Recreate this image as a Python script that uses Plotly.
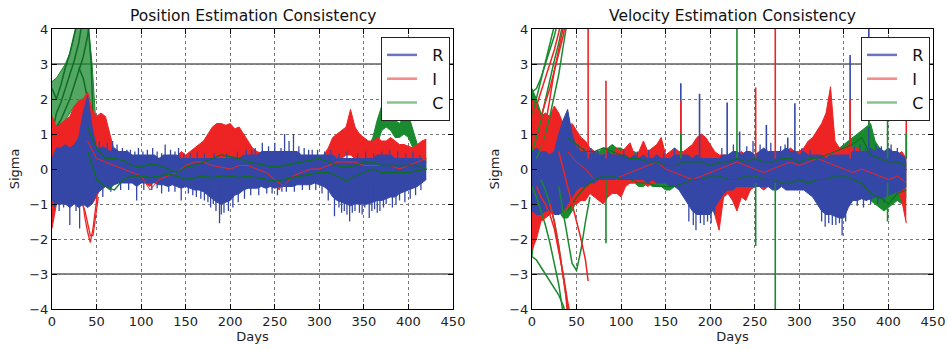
import plotly.graph_objects as go

# ---------------- data ----------------
DAYS = list(range(0, 421, 5))          # 5-day sampling grid, 85 points
LINE_DAYS = list(range(40, 421, 10))   # 10-day grid for thin lines, 39 points

# Position panel -------------------------------------------------
POS_R_HI = [0.3,0.6,0.6,0.7,0.6,0.7,0.9,1.6,2.1,1.2,
            0.6,0.6,0.6,0.5,0.6,0.5,0.5,0.5,0.4,0.4,
            0.4,0.4,0.4,0.4,0.3,0.4,0.4,0.4,0.4,0.3,
            0.3,0.3,0.3,0.3,0.3,0.3,0.3,0.3,0.3,0.3,
            0.3,0.3,0.3,0.4,0.4,0.4,0.4,0.5,0.5,0.5,
            0.5,0.5,0.5,0.5,0.5,0.5,0.4,0.4,0.4,0.4,
            0.4,0.4,0.4,0.4,0.3,0.3,0.3,0.3,0.3,0.3,
            0.3,0.3,0.3,0.4,0.4,0.4,0.4,0.3,0.3,0.3,
            0.3,0.3,0.3,0.3,0.2]
POS_R_LO = [-0.9,-1.0,-1.0,-1.0,-1.1,-1.0,-1.1,-1.0,-1.1,-1.0,
            -0.7,-0.6,-0.5,-0.5,-0.45,-0.4,-0.4,-0.4,-0.4,-0.5,
            -0.4,-0.4,-0.4,-0.4,-0.45,-0.45,-0.5,-0.45,-0.5,-0.55,
            -0.5,-0.55,-0.6,-0.6,-0.65,-0.75,-0.85,-0.95,-1.0,-0.95,
            -0.9,-0.75,-0.7,-0.6,-0.55,-0.55,-0.55,-0.5,-0.55,-0.5,
            -0.55,-0.5,-0.5,-0.5,-0.5,-0.45,-0.45,-0.45,-0.45,-0.4,
            -0.45,-0.5,-0.6,-0.8,-0.9,-0.95,-1.0,-1.05,-1.0,-1.0,
            -1.0,-1.0,-0.95,-0.9,-0.9,-0.85,-0.8,-0.8,-0.7,-0.65,
            -0.6,-0.55,-0.5,-0.4,-0.3]
POS_R_UP_DAYS = [53,57,62,68,73,79,84,88,93,97,102,107,113,118,123,127,133,138,142,148,
                 155,163,171,182,196,208,218,224,228,236,243,250,257,261,266,271,277,283,288,292,
                 298,306,313,322,331,343,352,361,370,379,388,397,405,413]
POS_R_UP_VALS = [0.8,0.65,0.75,0.8,0.7,0.6,0.55,0.55,0.5,0.6,0.5,0.55,0.6,0.5,0.45,0.7,0.55,0.5,0.6,0.45,
                 0.45,0.5,0.45,0.45,0.45,0.5,0.55,0.55,0.6,0.75,0.65,0.75,0.6,1.0,0.8,1.0,0.65,0.6,0.55,0.55,
                 0.55,0.5,0.55,0.45,0.5,0.45,0.5,0.45,0.5,0.55,0.5,0.45,0.5,0.4]
POS_R_DN_DAYS = [3,8,13,20,27,31,57,66,77,86,95,103,112,118,123,131,138,145,153,158,162,167,171,175,178,181,184,188,
                 190,193,198,203,209,216,223,232,241,247,253,258,263,272,281,289,296,303,310,317,322,325,328,331,334,
                 337,340,345,348,351,356,359,362,365,368,372,375,382,386,390,396,402,408,414]
POS_R_DN_VALS = [-1.1,-1.2,-1.1,-1.6,-1.2,-1.7,-0.8,-0.65,-0.6,-0.6,-0.9,-0.6,-0.6,-0.55,-0.7,-0.65,-0.65,-0.9,-0.7,-0.75,-0.8,-0.85,-0.9,-0.95,-1.1,-1.0,-1.2,-1.55,
                 -1.3,-1.25,-1.2,-1.1,-0.95,-0.85,-0.75,-0.75,-0.7,-0.7,-0.75,-0.65,-0.65,-0.65,-0.6,-0.6,-0.6,-0.7,-0.9,-1.35,-1.1,-1.25,-1.2,-1.3,-1.5,
                 -1.25,-1.2,-1.25,-1.3,-1.1,-1.4,-1.2,-1.15,-1.25,-1.2,-1.1,-1.0,-1.1,-1.0,-0.9,-0.95,-0.85,-0.75,-0.6]

POS_I_HI = [1.5,1.2,1.3,1.4,1.5,1.8,1.95,2.0,2.2,1.7,
            1.5,1.6,1.5,1.0,0.5,0.4,0.4,0.3,0.3,0.3,
            0.3,0.25,0.3,0.25,0.3,0.25,0.3,0.3,0.35,0.5,
            0.4,0.5,0.6,0.7,0.8,1.0,1.2,1.3,1.3,1.25,
            1.3,1.15,1.2,1.0,0.8,0.6,0.5,0.45,0.5,0.4,
            0.35,0.3,0.4,0.3,0.3,0.3,0.3,0.4,0.3,0.3,
            0.3,0.4,0.6,0.9,1.0,1.1,1.2,1.7,1.2,1.0,
            0.9,0.8,0.8,0.9,0.8,0.8,0.9,0.8,0.7,0.7,
            0.65,0.6,0.7,0.8,0.85]
POS_I_LO = [-1.7,-1.0,-0.8,-0.6,-0.5,-0.5,-0.8,-1.0,-1.0,-1.0,
            -0.8,-0.5,-0.3,-0.2,-0.2,-0.3,-0.3,-0.2,-0.3,-0.2,
            -0.3,-0.4,-0.5,-0.3,-0.3,-0.2,-0.3,-0.2,-0.2,-0.1,
            -0.1,0.0,0.0,0.1,0.1,0.2,0.2,0.3,0.3,0.3,
            0.2,0.2,0.1,0.1,0.1,0.0,0.0,-0.1,-0.2,-0.3,
            -0.4,-0.6,-0.3,-0.2,-0.2,-0.1,-0.1,-0.1,0.0,0.0,
            -0.1,0.0,0.1,0.2,0.3,0.3,0.4,0.4,0.3,0.2,
            0.1,0.1,0.1,0.0,0.0,0.0,0.0,0.0,0.0,0.0,
            0.0,0.0,0.1,0.2,0.2]
POS_I_LINE = [0.8,0.3,0.2,0.1,0.0,-0.1,-0.2,-0.6,-0.3,-0.2,
              -0.1,0.1,0.2,0.2,0.1,0.05,0.0,0.1,0.1,0.0,
              -0.1,-0.3,-0.5,-0.2,-0.1,0.0,0.0,0.1,0.2,0.2,
              0.2,0.1,0.1,0.1,0.1,0.0,0.1,0.2,0.3]
POS_I_DIP_DAYS = [28,31,34,37,40,43,46,49,52]
POS_I_DIP1 = [0.3,-0.3,-0.9,-1.4,-1.8,-2.1,-1.7,-1.1,-0.5]
POS_I_DIP2 = [0.0,-0.5,-1.0,-1.2,-1.6,-1.9,-1.9,-1.4,-0.8]

POS_C_HI = [2.5,2.6,2.8,3.0,3.3,3.8,4.3,4.3,4.3,3.0,
            1.0,0.5,0.4,0.3,0.3,0.3,0.3,0.25,0.2,0.2,
            0.2,0.2,0.2,0.2,0.2,0.2,0.2,0.2,0.2,0.2,
            0.2,0.2,0.25,0.3,0.3,0.35,0.4,0.45,0.5,0.5,
            0.45,0.4,0.35,0.3,0.3,0.25,0.2,0.2,0.2,0.2,
            0.2,0.2,0.2,0.2,0.2,0.25,0.3,0.3,0.3,0.35,
            0.35,0.35,0.3,0.25,0.2,0.2,0.2,0.2,0.25,0.3,
            0.4,0.6,0.9,1.4,1.8,1.9,1.75,1.4,1.3,1.5,
            1.55,1.1,0.7,0.5,0.3]
POS_C_LO = [-0.6,0.8,1.2,1.4,1.6,1.8,1.6,1.0,0.6,0.3,
            0.0,-0.3,-0.5,-0.6,-0.4,-0.3,-0.3,-0.25,-0.2,-0.2,
            -0.2,-0.2,-0.25,-0.2,-0.2,-0.2,-0.2,-0.2,-0.25,-0.3,
            -0.3,-0.3,-0.3,-0.3,-0.3,-0.3,-0.3,-0.3,-0.3,-0.3,
            -0.3,-0.3,-0.3,-0.3,-0.3,-0.3,-0.3,-0.3,-0.3,-0.35,
            -0.35,-0.35,-0.35,-0.3,-0.3,-0.3,-0.25,-0.2,-0.2,-0.2,
            -0.2,-0.2,-0.2,-0.25,-0.3,-0.35,-0.35,-0.3,-0.2,-0.1,
            0.0,0.2,0.4,0.7,1.1,1.2,1.1,0.9,0.9,1.0,
            0.9,0.6,0.3,0.1,0.0]
POS_C_LINE1 = [1.2,0.6,0.3,0.3,0.25,0.1,0.05,0.15,0.1,0.0,
               -0.1,0.05,0.1,0.2,0.3,0.4,0.35,0.3,0.2,0.15,
               0.1,0.05,0.1,0.15,0.2,0.25,0.3,0.2,0.1,0.05,
               0.1,0.2,0.2,0.1,0.1,0.1,0.1,0.1,0.0]
POS_C_LINE2 = [0.5,-0.3,-0.5,-0.6,-0.3,-0.2,-0.2,-0.25,-0.2,-0.15,
               -0.2,-0.3,-0.25,-0.2,-0.25,-0.2,-0.2,-0.25,-0.2,-0.25,
               -0.3,-0.35,-0.3,-0.25,-0.2,-0.15,-0.1,-0.1,-0.2,-0.35,
               -0.2,-0.1,0.0,-0.1,-0.1,-0.1,-0.1,-0.05,0.0]
POS_C_EARLY_DAYS = [[0,5,10,15,20,25,30], [0,5,10,15,20,25,30,35], [5,10,15,20,25,30,35,40,43],
                    [30,35,40,43,45,48,52], [38,41,44,46,49]]
POS_C_EARLY = [[2.3,2.0,2.4,2.9,3.3,3.8,4.4], [1.0,1.6,1.9,2.3,2.7,3.1,3.6,4.4],
               [1.2,1.4,1.7,2.0,2.4,2.8,3.2,3.8,4.4], [2.9,2.6,2.0,1.6,0.8,0.6,0.4],
               [4.4,4.0,3.0,1.5,0.8]]

# Velocity panel -------------------------------------------------
VEL_R_HI = [0.5,0.6,0.5,0.5,0.4,0.5,1.0,1.4,1.7,1.0,
            0.6,0.5,0.5,0.4,0.5,0.4,0.4,0.5,0.4,0.4,
            0.4,0.4,0.3,0.4,0.3,0.4,0.3,0.3,0.4,0.3,
            0.3,0.3,0.4,0.4,0.4,0.4,0.3,0.4,0.3,0.3,
            0.3,0.3,0.3,0.4,0.4,0.5,0.5,0.4,0.5,0.5,
            0.4,0.5,0.6,0.5,0.5,0.5,0.5,0.6,0.5,0.5,
            0.4,0.5,0.4,0.4,0.4,0.4,0.3,0.4,0.4,0.4,
            0.4,0.4,0.5,0.5,0.5,0.5,0.6,0.5,0.6,0.5,
            0.6,0.5,0.5,0.4,0.3]
VEL_R_LO = [-1.2,-1.3,-1.3,-1.2,-1.2,-1.3,-1.3,-1.2,-1.0,-0.8,
            -0.6,-0.5,-0.5,-0.4,-0.4,-0.3,-0.3,-0.3,-0.3,-0.3,
            -0.3,-0.3,-0.3,-0.3,-0.3,-0.3,-0.4,-0.3,-0.4,-0.4,
            -0.4,-0.5,-0.5,-0.6,-0.8,-1.0,-1.2,-1.3,-1.3,-1.3,
            -1.3,-1.1,-0.9,-0.7,-0.6,-0.6,-0.5,-0.5,-0.5,-0.5,
            -0.5,-0.5,-0.5,-0.5,-0.6,-0.6,-0.5,-0.6,-0.6,-0.6,
            -0.6,-0.6,-0.7,-0.8,-1.0,-1.2,-1.3,-1.3,-1.35,-1.4,
            -1.4,-1.1,-0.9,-0.9,-0.85,-0.9,-0.85,-0.8,-0.85,-0.8,
            -0.75,-0.7,-0.65,-0.6,-0.5]
VEL_R_DN_DAYS = [176,181,184,189,193,197,201,205,325,329,333,337,341,345,348,352,365,372,380,388,395]
VEL_R_DN_VALS = [-1.5,-1.6,-1.75,-1.55,-1.6,-1.5,-1.55,-1.3,-1.5,-1.65,-1.55,-1.6,-1.6,-1.55,-1.9,-1.5,
                 -1.05,-1.1,-1.0,-1.0,-0.95]
VEL_R_SMALL_DAYS = [52,58,66,74,92,103,118,131,148,160,213,226,241,248,256,268,279,284,303,312,
                    362,368,374,386,392,403,410]
VEL_R_SMALL_TOPS = [0.7,0.6,0.6,0.55,0.5,0.55,0.5,0.55,0.5,0.6,0.6,0.7,0.65,0.8,0.7,0.75,0.65,0.7,0.6,0.55,
                    0.65,0.7,0.6,0.7,0.65,0.7,0.6]
VEL_R_SPIKE_DAYS = [167,188,219,233,263,287,295,357,378]
VEL_R_SPIKE_TOPS = [2.45,2.15,1.9,1.07,1.26,0.9,1.88,3.26,4.3]

VEL_I_HI = [2.0,1.8,1.5,1.6,1.5,1.8,1.6,1.3,1.2,1.3,
            1.1,0.9,0.8,0.6,0.5,0.4,0.4,0.5,0.4,0.6,
            0.5,0.6,0.75,0.4,0.5,0.8,0.5,0.6,0.7,0.9,
            0.4,0.5,0.6,0.5,0.5,0.6,0.7,0.9,1.0,0.9,
            0.7,0.5,0.4,0.4,0.4,0.4,0.4,0.5,0.4,0.4,
            0.4,0.4,0.3,0.4,0.3,0.4,0.5,0.5,0.6,0.5,
            0.5,0.6,0.8,0.9,1.1,1.3,1.6,2.35,0.8,0.6,
            0.6,0.7,0.6,0.6,0.5,0.5,0.4,0.4,0.4,0.4,
            0.5,0.4,0.4,0.5,0.3]
VEL_I_LO = [-2.3,-2.0,-1.5,-1.4,-1.3,-1.2,-1.3,-1.2,-1.1,-1.0,
            -1.0,-0.9,-0.9,-0.7,-0.8,-0.9,-1.0,-0.8,-0.7,-0.7,
            -0.8,-0.5,-0.4,-0.4,-0.4,-0.4,-0.5,-0.4,-0.4,-0.3,
            -0.3,-0.3,-0.3,-0.3,-0.4,-0.4,-0.5,-0.5,-0.6,-0.7,
            -1.0,-1.3,-1.75,-0.8,-0.7,-0.9,-1.2,-0.8,-0.9,-0.6,
            -0.5,-0.5,-0.6,-0.5,-0.5,-0.4,-0.4,-0.5,-0.4,-0.4,
            -0.4,-0.3,-0.4,-0.3,-0.3,-0.3,-0.4,-0.3,-0.4,-0.4,
            -0.5,-0.4,-0.4,-0.4,-0.5,-0.4,-0.5,-0.4,-0.5,-0.5,
            -0.6,-0.5,-0.6,-0.9,-1.55]
VEL_I_LINE = [0.5,0.2,0.0,-0.3,-0.6,-0.4,-0.2,-0.1,0.0,0.1,
              0.2,0.0,-0.1,-0.2,-0.3,-0.2,-0.1,0.0,0.1,0.2,
              0.1,0.0,-0.1,0.0,0.1,0.2,0.1,0.2,0.3,0.2,
              0.1,0.0,-0.1,0.0,-0.1,-0.2,-0.3,-0.2,-0.4]
VEL_I_SPIKE_DAYS = [63,83,167,251,273,357,420]
VEL_I_SPIKE_TOPS = [4.3,2.52,1.95,2.33,4.3,1.97,1.95]
VEL_I_EARLY_DAYS = [[0,5,10,15,20,25,30,35], [0,5,10,15,20,25,30,35,40], [10,15,20,25,30,35,38],
                    [30,35,40,45,50,55,60,63], [20,25,30,35,38,40], [5,10,15,20,25,30,35,40,45]]
VEL_I_EARLY = [[1.5,1.8,2.2,2.6,3.0,3.4,3.9,4.5], [1.0,1.2,1.5,1.9,2.3,2.8,3.3,3.8,4.5],
               [0.5,1.2,2.0,2.8,3.4,3.9,4.4], [0.5,0.0,-0.5,-1.0,-1.5,-2.0,-2.6,-3.2],
               [-1.0,-1.5,-2.2,-3.0,-3.6,-4.2], [-0.5,-0.8,-1.0,-1.3,-1.7,-2.3,-3.0,-3.8,-4.4]]

VEL_C_HI = [2.3,2.0,1.6,1.4,1.3,1.2,1.0,0.9,0.9,0.9,
            0.8,0.7,0.7,0.6,0.5,0.5,0.6,0.6,0.7,0.6,
            0.6,0.5,0.5,0.5,0.4,0.4,0.4,0.4,0.4,0.4,
            0.3,0.3,0.3,0.4,0.3,0.3,0.3,0.3,0.3,0.3,
            0.3,0.3,0.3,0.3,0.3,0.4,0.4,0.3,0.3,0.3,
            0.4,0.4,0.3,0.3,0.3,0.3,0.4,0.4,0.3,0.3,
            0.3,0.3,0.3,0.3,0.4,0.4,0.4,0.4,0.5,0.6,
            0.7,0.8,0.9,1.0,1.1,1.2,1.3,0.8,0.6,0.5,
            0.4,0.4,0.4,0.3,0.2]
VEL_C_LO = [-2.5,-1.5,-1.0,-0.9,-1.0,-1.0,-1.2,-1.4,-1.4,-1.2,
            -0.9,-0.7,-0.6,-0.5,-0.4,-0.4,-0.3,-0.3,-0.3,-0.3,
            -0.3,-0.4,-0.4,-0.4,-0.5,-0.5,-0.4,-0.5,-0.5,-0.5,
            -0.6,-0.6,-0.5,-0.4,-0.4,-0.4,-0.4,-0.4,-0.4,-0.4,
            -0.4,-0.4,-0.4,-0.4,-0.4,-0.4,-0.4,-0.4,-0.4,-0.4,
            -0.4,-0.4,-0.4,-0.4,-0.4,-0.4,-0.4,-0.5,-0.5,-0.5,
            -0.5,-0.5,-0.6,-0.5,-0.5,-0.5,-0.5,-0.4,-0.4,-0.4,
            -0.4,-0.4,-0.4,-0.4,-0.5,-0.6,-0.9,-1.0,-1.1,-1.2,
            -1.1,-1.0,-0.9,-1.0,-0.8]
VEL_C_LINE1 = [0.9,0.7,0.5,0.5,0.6,0.5,0.4,0.3,0.3,0.2,
               0.2,0.1,0.1,0.2,0.2,0.2,0.1,0.2,0.2,0.3,
               0.2,0.3,0.2,0.2,0.3,0.3,0.2,0.3,0.3,0.4,
               0.5,0.6,0.7,0.9,0.4,0.3,0.2,0.2,0.1]
VEL_C_LINE2 = [-1.2,-0.8,-0.5,-0.3,-0.2,-0.2,-0.3,-0.3,-0.4,-0.4,
               -0.5,-0.5,-0.5,-0.4,-0.3,-0.3,-0.2,-0.2,-0.3,-0.3,
               -0.2,-0.2,-0.3,-0.3,-0.4,-0.4,-0.3,-0.4,-0.3,-0.3,
               -0.2,-0.2,-0.3,-0.4,-0.7,-0.8,-1.0,-0.7,-0.6]
VEL_C_SPIKE_DAYS = [167,230,378,399,420,83,251,273,399]
VEL_C_SPIKE_BASE = [0.3,0.3,1.2,0.3,0.3,-0.3,-0.4,-0.4,-0.4]
VEL_C_SPIKE_TOPS = [1.0,4.3,2.0,1.7,1.0,-2.12,-2.2,-4.3,-1.5]
VEL_C_EARLY_DAYS = [[0,5,10,15,20,25,28], [0,5,10,15,20,25,30,35], [5,10,15,20,25,30,35,40],
                    [0,5,10,15,20,25,30,30], [0,5,10,15,20,25,30,33,36], [10,15,20,25,30,35,40,42],
                    [30,35,40,45,50,55,60,65], [0,5,10,15,20,25,30,35,40]]
VEL_C_EARLY = [[1.5,2.0,2.5,3.0,3.5,4.0,4.4], [0.5,0.9,1.4,2.0,2.6,3.1,3.6,4.2],
               [0.3,0.6,1.0,1.5,2.1,2.7,3.5,4.3], [2.2,2.3,2.6,3.0,3.4,3.8,4.3,4.3],
               [-0.5,-0.8,-1.2,-1.6,-2.1,-2.7,-3.3,-3.8,-4.3], [-0.3,-0.6,-1.0,-1.5,-2.2,-3.0,-3.8,-4.3],
               [-0.5,-1.2,-2.0,-2.7,-2.9,-2.3,-1.5,-0.8], [-2.5,-2.6,-2.8,-3.0,-3.2,-3.4,-3.6,-3.9,-4.3]]

TITLES = ["Position Estimation Consistency", "Velocity Estimation Consistency"]
X_TICKS = [0, 50, 100, 150, 200, 250, 300, 350, 400, 450]
Y_TICKS = [-4, -3, -2, -1, 0, 1, 2, 3, 4]
LEGEND_NAMES = ["R", "I", "C"]

# ---------------- styling ----------------
BLUE = "#3547a6"
RED = "#ee2424"
GREEN = "#1a8a2e"
GREEN_SOFT = "rgba(26,138,46,0.75)"
DKGREEN = "#0f6e24"
LEG_COLORS = ["#6a74c2", "#f58a8a", "#86c48e"]
FONT = "DejaVu Sans"

fig = go.Figure()


def band(x, lo, hi, color, xa, ya, fillcolor=None):
    fig.add_trace(go.Scatter(x=x, y=lo, mode="lines", line=dict(color=color, width=1),
                             showlegend=False, hoverinfo="skip", xaxis=xa, yaxis=ya))
    fig.add_trace(go.Scatter(x=x, y=hi, mode="lines", line=dict(color=color, width=1),
                             fill="tonexty", fillcolor=fillcolor or color, showlegend=False,
                             hoverinfo="skip", xaxis=xa, yaxis=ya))


def spikes(days, base, tops, color, xa, ya, width=1.3):
    xs, ys = [], []
    for i, (d, t) in enumerate(zip(days, tops)):
        b = base[i] if isinstance(base, list) else base
        xs += [d, d, None]
        ys += [b, t, None]
    fig.add_trace(go.Scatter(x=xs, y=ys, mode="lines", line=dict(color=color, width=width),
                             showlegend=False, hoverinfo="skip", xaxis=xa, yaxis=ya))


def line(x, y, color, xa, ya, width=1.3):
    fig.add_trace(go.Scatter(x=x, y=y, mode="lines", line=dict(color=color, width=width),
                             showlegend=False, hoverinfo="skip", xaxis=xa, yaxis=ya))


# ---- Position (left) ----
xa, ya = "x", "y"
band(DAYS[:11], POS_C_LO[:11], POS_C_HI[:11], GREEN, xa, ya, GREEN_SOFT)
for dd, vv in zip(POS_C_EARLY_DAYS, POS_C_EARLY):
    line(dd, vv, DKGREEN, xa, ya, 1.5)
band(DAYS[10:], POS_C_LO[10:], POS_C_HI[10:], GREEN, xa, ya)
band(DAYS, POS_I_LO, POS_I_HI, RED, xa, ya)
line(POS_I_DIP_DAYS, POS_I_DIP1, RED, xa, ya)
line(POS_I_DIP_DAYS, POS_I_DIP2, RED, xa, ya)
band(DAYS, POS_R_LO, POS_R_HI, BLUE, xa, ya)
spikes(POS_R_UP_DAYS, 0.2, POS_R_UP_VALS, BLUE, xa, ya)
spikes(POS_R_DN_DAYS, -0.3, POS_R_DN_VALS, BLUE, xa, ya)
line(LINE_DAYS, POS_I_LINE, RED, xa, ya, 1.0)
line(LINE_DAYS, POS_C_LINE1, DKGREEN, xa, ya, 1.3)
line(LINE_DAYS, POS_C_LINE2, DKGREEN, xa, ya, 1.3)

# ---- Velocity (right) ----
xa, ya = "x2", "y2"
band(DAYS, VEL_C_LO, VEL_C_HI, GREEN, xa, ya)
band(DAYS, VEL_I_LO, VEL_I_HI, RED, xa, ya)
band(DAYS, VEL_R_LO, VEL_R_HI, BLUE, xa, ya)
spikes(VEL_R_DN_DAYS, -0.4, VEL_R_DN_VALS, BLUE, xa, ya)
spikes(VEL_R_SMALL_DAYS, 0.2, VEL_R_SMALL_TOPS, BLUE, xa, ya)
spikes(VEL_R_SPIKE_DAYS, 0.3, VEL_R_SPIKE_TOPS, BLUE, xa, ya, 1.6)
spikes(VEL_I_SPIKE_DAYS, 0.3, VEL_I_SPIKE_TOPS, RED, xa, ya, 1.6)
spikes(VEL_C_SPIKE_DAYS, VEL_C_SPIKE_BASE, VEL_C_SPIKE_TOPS, GREEN, xa, ya, 1.6)
line(LINE_DAYS, VEL_I_LINE, RED, xa, ya, 1.0)
line(LINE_DAYS, VEL_C_LINE1, DKGREEN, xa, ya, 1.2)
line(LINE_DAYS, VEL_C_LINE2, DKGREEN, xa, ya, 1.2)
for dd, vv in zip(VEL_C_EARLY_DAYS, VEL_C_EARLY):
    line(dd, vv, GREEN, xa, ya, 1.5)
for dd, vv in zip(VEL_I_EARLY_DAYS, VEL_I_EARLY):
    line(dd, vv, RED, xa, ya, 1.5)

# ---- legend entries ----
for lg, xa, ya in [("legend", "x", "y"), ("legend2", "x2", "y2")]:
    for name, col in zip(LEGEND_NAMES, LEG_COLORS):
        fig.add_trace(go.Scatter(x=[None], y=[None], mode="lines", name="\u00a0\u00a0" + name,
                                 line=dict(color=col, width=2.5), legend=lg, xaxis=xa, yaxis=ya))

# Full-window figure; the page's default body margin is removed by post_script.
W, H = 948, 350
ML, MT = 52, 29
MR = W - 933
MB = H - 309
PW = W - ML - MR
PH = H - MT - MB
left_dom = [0, 401 / PW]
right_dom = [(532 - 52) / PW, 1]

axis_common = dict(showline=True, linecolor="black", linewidth=1.2, mirror="allticks",
                   ticks="inside", ticklen=5, tickcolor="black", automargin=False,
                   showgrid=True, gridcolor="#777", griddash="dot", gridwidth=1,
                   zeroline=False, tickfont=dict(family=FONT, size=13, color="#222"))

leg_common = dict(xanchor="left", yanchor="top", bgcolor="white", bordercolor="#222",
                  borderwidth=1, font=dict(family=FONT, size=16, color="#111"),
                  tracegroupgap=0, itemwidth=30, traceorder="normal")

fig.update_layout(
    width=W, height=H, margin=dict(l=ML, r=MR, t=MT, b=MB),
    plot_bgcolor="white", paper_bgcolor="white",
    font=dict(family=FONT, color="#222"),
    xaxis=dict(domain=left_dom, range=[0, 450], tickvals=X_TICKS, anchor="y",
               title=dict(text="Days", font=dict(size=13), standoff=4), **axis_common),
    yaxis=dict(domain=[0, 1], range=[-4, 4], tickvals=Y_TICKS, anchor="x",
               title=dict(text="Sigma", font=dict(size=13), standoff=6), **axis_common),
    xaxis2=dict(domain=right_dom, range=[0, 450], tickvals=X_TICKS, anchor="y2",
                title=dict(text="Days", font=dict(size=13), standoff=4), **axis_common),
    yaxis2=dict(domain=[0, 1], range=[-4, 4], tickvals=Y_TICKS, anchor="x2",
                title=dict(text="Sigma", font=dict(size=13), standoff=6), **axis_common),
    legend=dict(x=(381 - 52) / PW, y=(309 - 37) / PH, **leg_common),
    legend2=dict(x=(861 - 52) / PW, y=(309 - 37) / PH, **leg_common),
    showlegend=True,
)

for i, (t, xr) in enumerate(zip(TITLES, ["x domain", "x2 domain"])):
    fig.add_annotation(text=t, xref=xr, yref="y domain" if i == 0 else "y2 domain",
                       x=0.5, y=1, xanchor="center", yanchor="bottom", yshift=2,
                       showarrow=False, font=dict(family=FONT, size=15.5, color="#111"))

for xr, yr in [("x domain", "y"), ("x2 domain", "y2")]:
    for v in [3, -3]:
        fig.add_shape(type="line", xref=xr, yref=yr, x0=0, x1=1, y0=v, y1=v,
                      line=dict(color="#888", width=2), layer="below")

fig.write_html("out.html",
               config={"displayModeBar": False},
               post_script="document.body.style.margin='0';document.body.style.overflow='hidden';")
